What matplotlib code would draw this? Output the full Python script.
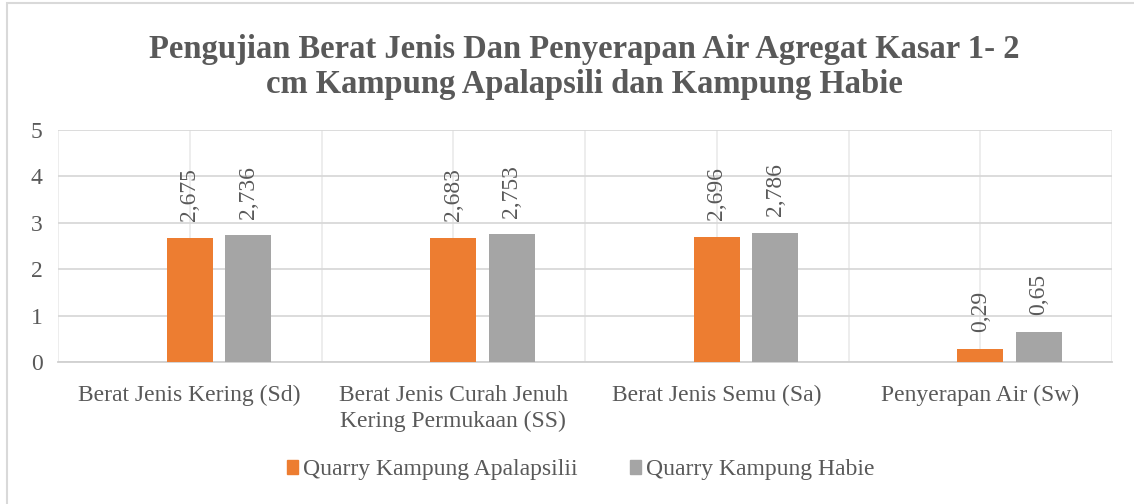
import numpy as np
import matplotlib
matplotlib.use("Agg")
import matplotlib.pyplot as plt
from matplotlib.patches import Rectangle, Patch

# Data
kategori = ['Berat Jenis Kering (Sd)', 'Berat Jenis Curah Jenuh\nKering Permukaan (SS)',
            'Berat Jenis Semu (Sa)', 'Penyerapan Air (Sw)']
apalapsili = [2.675, 2.683, 2.696, 0.29]
habie = [2.736, 2.753, 2.786, 0.65]
nama_seri = ['Quarry Kampung Apalapsilii', 'Quarry Kampung Habie']
judul = 'Pengujian Berat Jenis Dan Penyerapan Air Agregat Kasar 1- 2\ncm Kampung Apalapsili dan Kampung Habie'

plt.rcParams['font.family'] = ['Liberation Serif', 'DejaVu Serif']
warna_teks = '#595959'
oranye = '#ED7D31'
abu = '#A5A5A5'

fig = plt.figure(figsize=(11.34, 5.04), dpi=100)
ax = fig.add_axes([58/1134, 1 - 362.3/504, (1112 - 58)/1134, (362.3 - 130)/504])

x = np.arange(len(kategori))
lebar = 0.1746
jarak = 0.2216

b1 = ax.bar(x, apalapsili, lebar, color=oranye, zorder=3)
b2 = ax.bar(x + jarak, habie, lebar, color=abu, zorder=3)

for bars in (b1, b2):
    for r in bars:
        v = r.get_height()
        ax.annotate(('%g' % v).replace('.', ','), (r.get_x() + r.get_width()/2, v),
                    xytext=(0, 12), textcoords='offset points', rotation=90,
                    ha='center', va='bottom', fontsize=17, color=warna_teks)

ax.set_xlim(-0.5, 3.5)
ax.set_ylim(0, 5)
ax.set_yticks(range(6))
ax.set_xticks(x)
ax.set_xticklabels(kategori, linespacing=1.35)
ax.set_xticks(np.arange(-0.5, 4, 0.5), minor=True)
ax.tick_params(length=0, which='both', labelsize=17, colors=warna_teks)
ax.tick_params(axis='x', pad=16)
ax.tick_params(axis='y', pad=11)
ax.grid(axis='y', color='#d9d9d9', linewidth=1.3, zorder=0)
ax.grid(axis='x', which='both', color='#ececec', linewidth=1.3, zorder=0)
for s in ['top', 'right', 'left']:
    ax.spines[s].set_visible(False)
ax.spines['bottom'].set_color('#d0d0d0')
ax.spines['bottom'].set_linewidth(1.3)

fig.text(0.515, 1 - 67/504, judul, ha='center', va='center', fontsize=23.5,
         fontweight='bold', color=warna_teks, linespacing=1.2)

handles = [Patch(color=oranye), Patch(color=abu)]
fig.legend(handles, nama_seri, loc='center', bbox_to_anchor=(0.512, 1 - 470/504),
           ncol=2, frameon=False, fontsize=17, handlelength=0.5, handleheight=0.5,
           handletextpad=0.2, columnspacing=2.2, labelcolor=warna_teks)

fig.patches.append(Rectangle((7/1134, -0.1), 1.2, 1.1 - 3/504, transform=fig.transFigure,
                             fill=False, edgecolor='#d9d9d9', linewidth=1.5))

fig.savefig('out.png', dpi=100)
